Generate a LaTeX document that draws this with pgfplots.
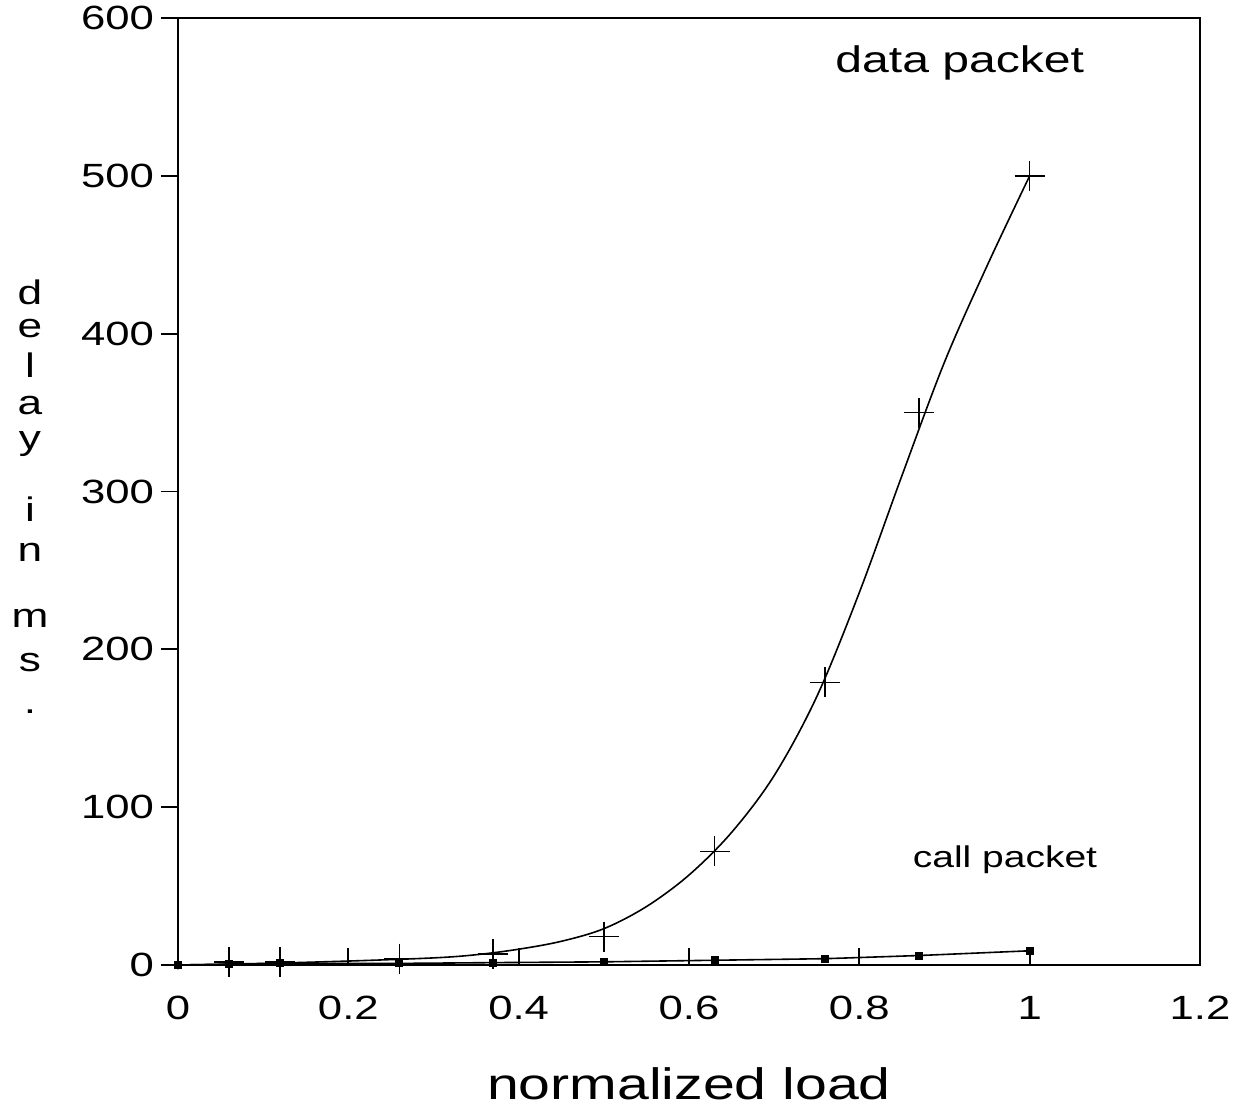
\documentclass[border=0pt]{standalone}
\usepackage{pgfplots}
\pgfplotsset{compat=1.18}
\usepackage{fontspec}
\setmainfont{Liberation Sans}[FakeStretch=1.3]

\begin{document}
\begin{tikzpicture}
\path[use as bounding box] (-89pt,-71.5pt) rectangle (530pt,482.5pt);
\begin{axis}[
  at={(0,0)}, anchor=south west,
  scale only axis, width=511pt, height=473.5pt,
  xmin=0, xmax=1.2, ymin=0, ymax=600,
  xtick={0,0.2,0.4,0.6,0.8,1,1.2},
  xticklabels={0,0.2,0.4,0.6,0.8,1,1.2},
  ytick={0,100,200,300,400,500,600},
  yticklabels={0,100,200,300,400,500,600},
  tick pos=left,
  xtick align=inside, ytick align=outside,
  major tick length=8.5pt,
  tick style={black, line width=0.9pt},
  axis line style={line width=1pt},
  tick label style={font=\fontsize{16.8}{20}\selectfont},
  xticklabel style={yshift=-12pt},
  xlabel={normalized load},
  xlabel style={font=\fontsize{22}{26}\selectfont, at={(axis description cs:0.5,0)}, anchor=base, yshift=-67.5pt},
  clip=false,
]
% data packet smooth curve
\addplot[black, line width=0.8pt, smooth, tension=0.55] coordinates {
 (0,0) (0.1,1) (0.2,2.5) (0.3,4.5) (0.35,6.5) (0.4,10) (0.45,15) (0.5,23) (0.55,37) (0.6,57) (0.65,84) (0.7,120) (0.75,170) (0.8,236) (0.85,310) (0.9,382) (0.95,443) (1.0,500)
};
% data packet markers
\addplot[only marks, mark=+, mark size=7.5pt, line width=0.8pt, black] coordinates {
 (0.06,2) (0.12,2) (0.26,4) (0.37,7) (0.5,18) (0.63,72) (0.76,179) (0.87,350) (1.0,500)
};
\addplot[only marks, mark=o, mark size=2pt, black] coordinates {(0,0)};
% call packet
\addplot[black, line width=0.8pt, mark=square*, mark size=1.6pt] coordinates {
 (0,0) (0.06,0.5) (0.12,1) (0.26,1) (0.37,1.5) (0.5,2) (0.63,3) (0.76,4) (0.87,6) (1.0,9)
};
\node[font=\fontsize{18.5}{22}\selectfont] at (axis cs:0.918,571.6) {data packet};
\node[font=\fontsize{15}{18}\selectfont] at (axis cs:0.971,66.5) {call packet};
\end{axis}
\foreach \l/\b in {d/330, e/313.5, l/293.5, a/275, y/257.5, i/221.5, n/201.5, m/168.5, s/146.5, ./125.5}{
  \node[font=\fontsize{17}{20}\selectfont, anchor=base, inner sep=0pt] at (-74pt,\b pt) {\l};
}
\end{tikzpicture}
\end{document}
